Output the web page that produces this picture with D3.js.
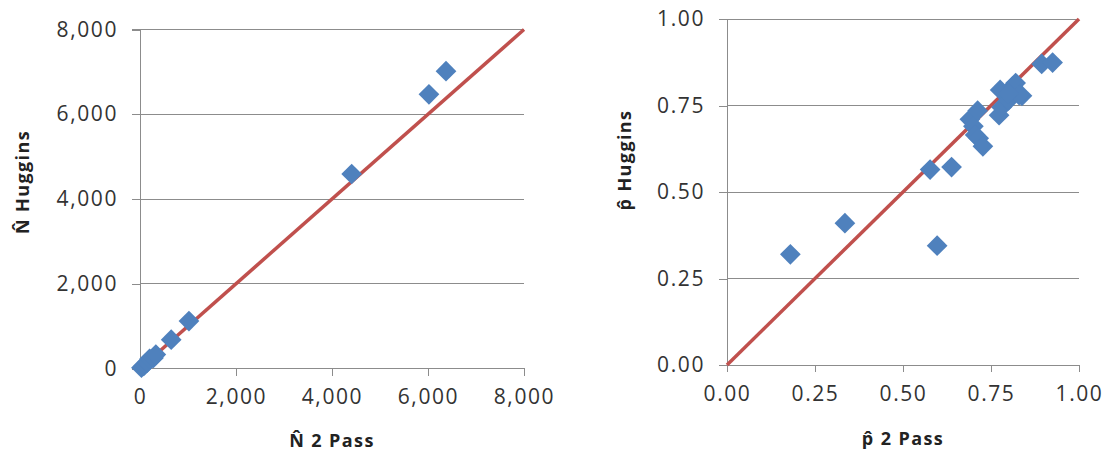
<!DOCTYPE html>
<html>
<head>
<meta charset="utf-8">
<script src="https://cdn.jsdelivr.net/npm/d3@7"></script>
<style>
  body { margin: 0; background: #fff; }
  text { font-family: "Open Sans", sans-serif; }
  .tick text { fill: #333; font-size: 21px; letter-spacing: 1.6px; }
  .title { fill: #222; font-size: 18px; font-weight: bold; letter-spacing: 1.4px; }
</style>
</head>
<body>
<div id="chart"></div>
<script>
const width = 1105
const height = 453

// Datos: N estimado (2 Pass vs Huggins)
const nPass2 = [30, 80, 150, 200, 280, 330, 650, 1020, 4410, 6020, 6375]
const nHuggins = [20, 60, 140, 230, 250, 330, 680, 1120, 4590, 6470, 7017]
const nTicks = [0, 2000, 4000, 6000, 8000]

// Datos: p estimado (2 Pass vs Huggins)
const pPass2 = [0.18, 0.335, 0.597, 0.577, 0.638, 0.69, 0.70, 0.712, 0.705, 0.715, 0.727,
  0.773, 0.78, 0.776, 0.80, 0.812, 0.82, 0.838, 0.83, 0.80, 0.894, 0.925]
const pHuggins = [0.32, 0.41, 0.345, 0.565, 0.572, 0.71, 0.69, 0.735, 0.665, 0.655, 0.632,
  0.722, 0.745, 0.795, 0.765, 0.805, 0.815, 0.778, 0.78, 0.785, 0.870, 0.874]
const pTicks = [0, 0.25, 0.5, 0.75, 1]

const svg = d3.select("div#chart")
  .append("svg")
  .attr("width", width)
  .attr("height", height)

const gray = "#8c8c8c"
const blue = "#4f81bd"
const red = "#c0504d"

function drawPanel(opt) {
  const x = d3.scaleLinear().domain(opt.domain).range(opt.xRange)
  const y = d3.scaleLinear().domain(opt.domain).range(opt.yRange)
  const g = svg.append("g")

  // gridlines
  g.append("g").selectAll("line")
    .data(opt.ticks.slice(1))
    .join("line")
    .attr("x1", opt.xRange[0]).attr("x2", opt.xRange[1])
    .attr("y1", d => y(d)).attr("y2", d => y(d))
    .attr("stroke", gray)
    .attr("shape-rendering", "crispEdges")

  const yAxis = d3.axisLeft(y).tickValues(opt.ticks).tickFormat(opt.fmt).tickSize(8).tickPadding(14)
  const xAxis = d3.axisBottom(x).tickValues(opt.ticks).tickFormat(opt.fmt).tickSize(7).tickPadding(14)

  const ya = g.append("g").attr("transform", `translate(${opt.xRange[0]},0)`).call(yAxis)
  const xa = g.append("g").attr("transform", `translate(0,${opt.yRange[0]})`).call(xAxis)
  ;[ya, xa].forEach(a => {
    a.select(".domain").attr("stroke", gray).attr("shape-rendering", "crispEdges")
    a.selectAll(".tick line").attr("stroke", gray).attr("shape-rendering", "crispEdges")
    a.selectAll(".tick text").attr("font-family", null).attr("font-size", null)
  })
  ya.select(".domain").attr("d", `M-8,${opt.yRange[0]}H0V${opt.yRange[1]}H-8`)
  xa.select(".domain").attr("d", `M${opt.xRange[0]},7V0H${opt.xRange[1]}V7`)

  // línea 1:1
  g.append("line")
    .attr("x1", x(opt.domain[0])).attr("y1", y(opt.domain[0]))
    .attr("x2", x(opt.domain[1])).attr("y2", y(opt.domain[1]))
    .attr("stroke", red)
    .attr("stroke-width", 3.5)

  // puntos (rombos)
  const sym = d3.symbol(d3.symbolSquare, 215)
  g.append("g").selectAll("path")
    .data(opt.xs.map((v, i) => [v, opt.ys[i]]))
    .join("path")
    .attr("d", sym)
    .attr("transform", d => `translate(${x(d[0])},${y(d[1])}) rotate(45)`)
    .attr("fill", blue)

  // títulos
  svg.append("text").attr("class", "title")
    .attr("x", opt.xTitle[0]).attr("y", opt.xTitle[1])
    .attr("text-anchor", "middle").attr("dominant-baseline", "central")
    .text(opt.xLabel)
  svg.append("text").attr("class", "title")
    .attr("transform", `translate(${opt.yTitle[0]},${opt.yTitle[1]}) rotate(-90)`)
    .attr("text-anchor", "middle").attr("dominant-baseline", "central")
    .text(opt.yLabel)
}

drawPanel({
  domain: [0, 8000], ticks: nTicks, fmt: d3.format(","),
  xRange: [140, 524], yRange: [368.5, 29.5],
  xs: nPass2, ys: nHuggins,
  xLabel: "N\u0302 2 Pass", yLabel: "N\u0302 Huggins",
  xTitle: [332, 440], yTitle: [22, 182]
})

drawPanel({
  domain: [0, 1], ticks: pTicks, fmt: d3.format(".2f"),
  xRange: [727, 1079], yRange: [365, 19],
  xs: pPass2, ys: pHuggins,
  xLabel: "p\u0302 2 Pass", yLabel: "p\u0302 Huggins",
  xTitle: [903, 438], yTitle: [624, 160]
})
</script>
</body>
</html>
